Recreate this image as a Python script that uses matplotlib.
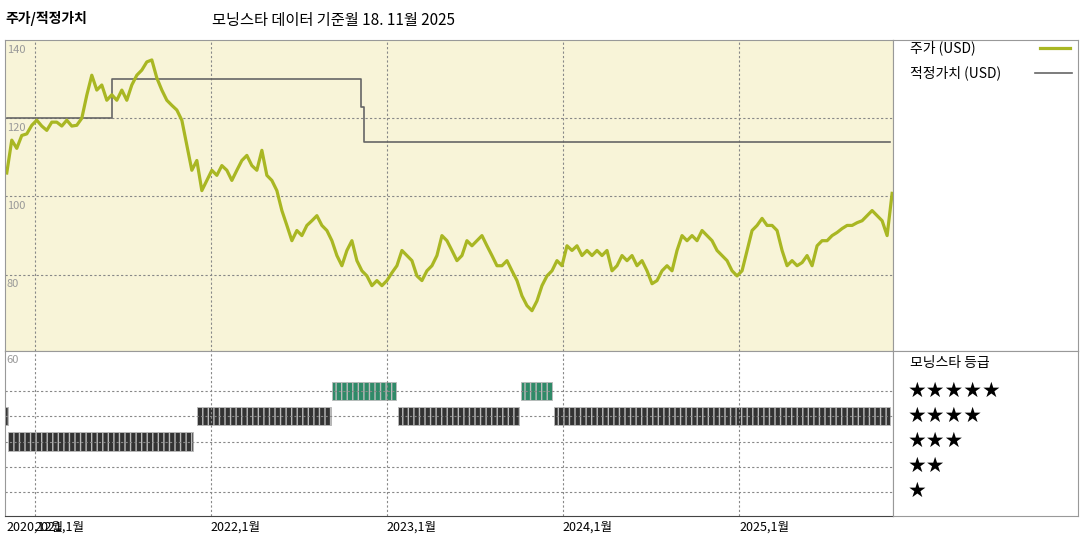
import numpy as np
import matplotlib
matplotlib.use("Agg")
import matplotlib.pyplot as plt

plt.rcParams['font.family'] = ['Noto Sans CJK KR', 'DejaVu Sans']

# 주가 (USD), 약 10일 간격
price = [106, 114.4, 112.3, 115.6, 116, 118.2, 119.5, 118, 116.9, 119, 119, 118, 119.5, 118, 118.2, 120,
         125.9, 131, 127.2, 128.5, 124.6, 126, 124.6, 127.2, 124.6, 128.5, 131, 132.3, 134.4, 134.9, 130.3,
         127.2, 124.6, 123.3, 122.1, 119.5, 113.1, 106.7, 109.2, 101.5, 104.1, 106.7, 105.4, 107.9, 106.7,
         104.1, 106.7, 109.2, 110.5, 107.9, 106.7, 111.8, 105.4, 104.1, 101.5, 96.4, 92.6, 88.7, 91.3, 90,
         92.6, 93.8, 95.1, 92.6, 91.3, 88.7, 84.9, 82.3, 86.2, 88.7, 83.6, 81, 79.7, 77.2, 78.5, 77.2, 78.5,
         80.5, 82.3, 86.2, 84.9, 83.6, 79.7, 78.5, 81, 82.3, 84.9, 90, 88.7, 86.2, 83.6, 84.9, 88.7, 87.4,
         88.7, 90, 87.4, 84.9, 82.3, 82.3, 83.6, 81, 78.5, 74.6, 72.1, 70.8, 73.3, 77.2, 79.7, 81, 83.6, 82.3,
         87.4, 86.2, 87.4, 84.9, 86.2, 84.9, 86.2, 84.9, 86.2, 81, 82.3, 84.9, 83.6, 84.9, 82.3, 83.6, 81,
         77.7, 78.5, 81, 82.3, 81, 86.2, 90, 88.7, 90, 88.7, 91.3, 90, 88.7, 86.2, 84.9, 83.6, 81, 79.7, 81,
         86.2, 91.3, 92.6, 94.4, 92.6, 92.6, 91.3, 86.2, 82.3, 83.6, 82.3, 83.1, 84.9, 82.3, 87.4, 88.7, 88.7,
         90, 90.8, 91.8, 92.6, 92.6, 93.3, 93.8, 95.1, 96.4, 95.1, 93.8, 90, 100.8]
price_start, price_end = 2020.84, 2025.87
price_t = np.linspace(price_start, price_end, len(price))

# 적정가치 (USD) 계단
fv_t = [2020.84, 2021.44, 2022.85, 2022.87, 2022.90, 2025.86]
fv_v = [120, 130, 123, 114, 114, 114]

# 모닝스타 등급 구간 (시작, 끝, 별 수)
rating_start = [2020.83, 2020.845, 2021.92, 2022.69, 2023.06, 2023.76, 2023.95]
rating_end = [2020.845, 2021.9, 2022.68, 2023.05, 2023.75, 2023.94, 2025.86]
rating_stars = [4, 3, 4, 5, 4, 5, 4]

xticks = [2020.84, 2021.0, 2022.0, 2023.0, 2024.0, 2025.0]
xlabels = ['2020,12월', '2021,1월', '2022,1월', '2023,1월', '2024,1월', '2025,1월']

green = '#a9b723'
W, H = 1080, 540
fig = plt.figure(figsize=(10.8, 5.4), dpi=100)

def box(l, t, r, b):
    return [l / W, 1 - b / H, (r - l) / W, (b - t) / H]

xmin, xmax = 2020.83, 2025.875
grid_kw = dict(color='#888888', ls=(0, (2, 2)), lw=0.8)

# 위 패널
ax = fig.add_axes(box(5, 40, 893, 351))
ax.set_facecolor('#f8f4d8')
ax.set_xlim(xmin, xmax)
ax.set_ylim(60.5, 140)
for y in [120, 100, 80]:
    ax.axhline(y, **grid_kw)
for x in xticks[1:]:
    ax.axvline(x, **grid_kw)
ax.step(fv_t, fv_v, where='post', color='#666666', lw=1.2)
ax.plot(price_t, price, color=green, lw=2.3)
for y in [140, 120, 100, 80]:
    ax.text(xmin + 0.01, y - 1.2, str(y), fontsize=8, color='#999999', va='top', ha='left')
ax.set_xticks([]); ax.set_yticks([])
for s in ax.spines.values():
    s.set_color('#999999'); s.set_lw(0.8)

# 아래 패널
ax2 = fig.add_axes(box(5, 351, 893, 516))
ax2.set_xlim(xmin, xmax)
ax2.set_ylim(0.04, 6.6)
for y in [1, 2, 3, 4, 5]:
    ax2.axhline(y, **grid_kw)
for x in xticks[1:]:
    ax2.axvline(x, **grid_kw)
for s0, s1, st in zip(rating_start, rating_end, rating_stars):
    c = '#2f8a68' if st == 5 else '#333333'
    ax2.broken_barh([(s0, s1 - s0)], (st - 0.36, 0.72), facecolors=c,
                    edgecolors='#bbbbbb', lw=0.6, hatch='|||')
ax2.text(xmin + 0.01, 6.45, '60', fontsize=8, color='#999999', va='top', ha='left')
ax2.set_yticks([])
ax2.set_xticks(xticks)
ax2.set_xticklabels(xlabels, fontsize=9, ha='left')
ax2.tick_params(axis='x', length=0, pad=3)
for s in ['top', 'left', 'right']:
    ax2.spines[s].set_color('#999999'); ax2.spines[s].set_lw(0.8)
ax2.spines['bottom'].set_color('#444444')

# 오른쪽 범례 패널
for t, b in [(40, 351), (351, 516)]:
    lax = fig.add_axes(box(893, t, 1078, b))
    lax.set_xticks([]); lax.set_yticks([])
    for s in lax.spines.values():
        s.set_color('#999999'); s.set_lw(0.8)

fig.text(910 / W, 1 - 48 / H, '주가 (USD)', fontsize=10, va='center')
fig.lines.append(plt.Line2D([1040 / W, 1070 / W], [1 - 48 / H] * 2, color=green, lw=2.3,
                            transform=fig.transFigure))
fig.text(910 / W, 1 - 73 / H, '적정가치 (USD)', fontsize=10, va='center')
fig.lines.append(plt.Line2D([1035 / W, 1072 / W], [1 - 73 / H] * 2, color='#666666', lw=1.2,
                            transform=fig.transFigure))
fig.text(910 / W, 1 - 363 / H, '모닝스타 등급', fontsize=10, va='center')
for i, n in enumerate([5, 4, 3, 2, 1]):
    fig.text(908 / W, 1 - (391 + 25 * i) / H, '★' * n, fontsize=15, va='center',
             family=['DejaVu Sans'])

fig.text(5 / W, 1 - 18 / H, '주가/적정가치', fontsize=10, fontweight='bold', va='center')
fig.text(212 / W, 1 - 20 / H, '모닝스타 데이터 기준월 18. 11월 2025', fontsize=11, va='center')

fig.savefig('out.png', dpi=100)
